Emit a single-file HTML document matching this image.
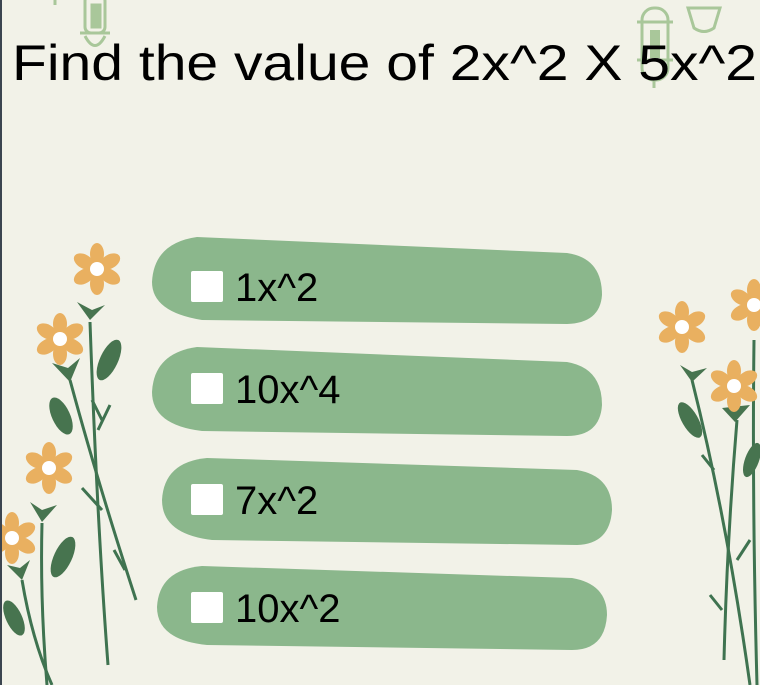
<!DOCTYPE html>
<html><head><meta charset="utf-8"><style>
html,body{margin:0;padding:0;}
body{width:760px;height:685px;background:#f2f2e8;overflow:hidden;position:relative;border-left:2px solid #3c4550;box-sizing:border-box;}
svg{position:absolute;left:0;top:0;}
</style></head><body>
<svg width="760" height="685" viewBox="0 0 760 685">
<defs>
<g id="fl">
<ellipse cx="0" cy="-15" rx="7" ry="11" fill="#e9b060"/>
<ellipse cx="0" cy="-15" rx="7" ry="11" fill="#e9b060" transform="rotate(60)"/>
<ellipse cx="0" cy="-15" rx="7" ry="11" fill="#e9b060" transform="rotate(120)"/>
<ellipse cx="0" cy="-15" rx="7" ry="11" fill="#e9b060" transform="rotate(180)"/>
<ellipse cx="0" cy="-15" rx="7" ry="11" fill="#e9b060" transform="rotate(240)"/>
<ellipse cx="0" cy="-15" rx="7" ry="11" fill="#e9b060" transform="rotate(300)"/>
<circle r="7" fill="#fff"/>
</g>
</defs>
<!-- lanterns -->
<g fill="none" stroke="#a9c79a" stroke-width="3">
<rect x="83" y="-5" width="20" height="38" rx="6"/><rect x="90" y="5" width="8" height="22" fill="#a9c79a"/>
<line x1="78" y1="33" x2="108" y2="33"/><path d="M83 36 Q93 55 103 36"/>
<line x1="53" y1="0" x2="53" y2="5"/>
<rect x="640" y="8" width="26" height="72" rx="12"/><rect x="648" y="30" width="10" height="28" fill="#a9c79a" stroke="none"/>
<line x1="635" y1="22" x2="671" y2="22"/><line x1="635" y1="60" x2="671" y2="60"/><line x1="652" y1="80" x2="652" y2="88"/>
<path d="M686 8 L718 8 L712 28 Q702 35 692 28 Z"/><line x1="702" y1="30" x2="702" y2="33"/>
</g>
<text x="10" y="80" font-family="Liberation Sans, sans-serif" font-size="50" fill="#000" textLength="745" lengthAdjust="spacingAndGlyphs">Find the value of 2x^2 X 5x^2</text>
<!-- stems left -->
<g stroke="#3f7350" stroke-width="3" fill="none">
<path d="M88 322 Q95 520 106 665"/><path d="M68 380 Q95 480 134 600"/>
<path d="M40 523 Q38 600 45 685"/><path d="M20 580 Q30 640 50 685"/>
<path d="M96 430 L108 405 M100 420 L90 400"/><path d="M100 510 L80 488"/><path d="M123 570 L112 550"/>
</g>
<g fill="#47744f">
<path d="M75 302 L88 320 L103 305 L90 310 Z"/><path d="M50 363 L68 382 L78 358 L66 368 Z"/>
<path d="M28 502 L40 522 L55 505 L40 510 Z"/><path d="M5 565 L20 580 L28 560 L18 568 Z"/>
<ellipse cx="107" cy="360" rx="9" ry="22" transform="rotate(25 107 360)"/>
<ellipse cx="59" cy="416" rx="9" ry="20" transform="rotate(-25 59 416)"/>
<ellipse cx="61" cy="557" rx="9" ry="22" transform="rotate(25 61 557)"/>
<ellipse cx="12" cy="618" rx="8" ry="19" transform="rotate(-25 12 618)"/>
</g>
<use href="#fl" x="95" y="269"/>
<use href="#fl" x="58" y="339" transform="translate(0,0)"/>
<use href="#fl" x="47" y="468"/>
<use href="#fl" x="10" y="538"/>
<!-- right -->
<g stroke="#3f7350" stroke-width="3" fill="none">
<path d="M690 380 Q725 520 748 685"/><path d="M735 420 Q725 540 722 660"/><path d="M752 340 Q750 500 755 685"/>
<path d="M712 470 L700 455 M735 560 L748 540 M720 610 L708 595"/>
</g>
<g fill="#47744f">
<path d="M678 365 L690 382 L705 368 L690 372 Z"/><path d="M720 408 L733 422 L748 405 Z"/>
<ellipse cx="688" cy="420" rx="8" ry="20" transform="rotate(-30 688 420)"/>
<ellipse cx="750" cy="460" rx="7" ry="18" transform="rotate(20 750 460)"/>
</g>
<use href="#fl" x="680" y="327"/>
<use href="#fl" x="752" y="305"/>
<use href="#fl" x="732" y="386"/>
<!-- answers -->
<g>
<path d="M195 237 L565 253 Q600 258 600 295 Q598 323 565 324 L200 320 Q150 312 150 282 Q152 243 195 237 Z" fill="#8bb78c"/>
<rect x="189" y="271" width="32" height="31" rx="2" fill="#fff"/>
<text x="233" y="301" font-family="Liberation Sans, sans-serif" font-size="40" fill="#000">1x^2</text>
</g>
<g>
<path d="M195 347 L565 362 Q600 368 600 405 Q598 436 565 436 L200 431 Q150 425 150 392 Q152 353 195 347 Z" fill="#8bb78c"/>
<rect x="189" y="373" width="32" height="31" rx="2" fill="#fff"/>
<text x="233" y="403" font-family="Liberation Sans, sans-serif" font-size="40" fill="#000">10x^4</text>
</g>
<g>
<path d="M205 458 L575 470 Q610 476 610 510 Q608 544 575 545 L210 540 Q160 534 160 500 Q162 462 205 458 Z" fill="#8bb78c"/>
<rect x="189" y="484" width="32" height="31" rx="2" fill="#fff"/>
<text x="233" y="514" font-family="Liberation Sans, sans-serif" font-size="40" fill="#000">7x^2</text>
</g>
<g>
<path d="M200 566 L570 578 Q605 584 605 615 Q603 650 570 650 L205 645 Q155 640 155 607 Q157 570 200 566 Z" fill="#8bb78c"/>
<rect x="189" y="592" width="32" height="31" rx="2" fill="#fff"/>
<text x="233" y="622" font-family="Liberation Sans, sans-serif" font-size="40" fill="#000">10x^2</text>
</g>
</svg>
</body></html>
